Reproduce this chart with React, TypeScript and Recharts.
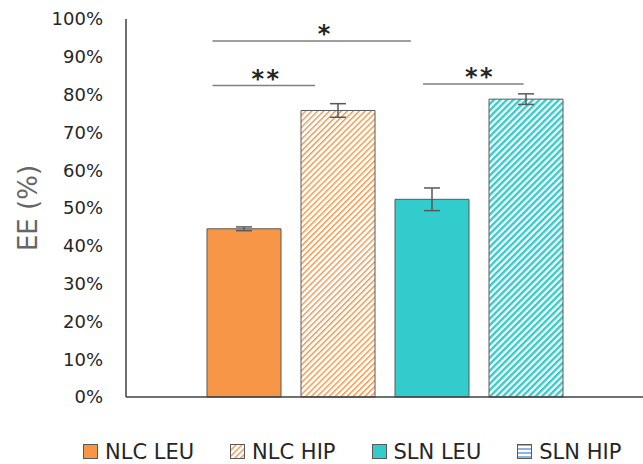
import React from 'react';
import {
  BarChart,
  Bar,
  XAxis,
  YAxis,
  ErrorBar,
  Legend,
  ReferenceLine,
} from 'recharts';

const seriesNames = ['NLC LEU', 'NLC HIP', 'SLN LEU', 'SLN HIP'];
const eeValues = [44.5, 75.8, 52.3, 78.8];
const eeErrors = [0.5, 1.8, 3.0, 1.4];
const yTicks = [0, 10, 20, 30, 40, 50, 60, 70, 80, 90, 100];

// significance brackets, x in bar-index units (0 = first bar centre)
const annDomain = [-1.25, 4.25];
const brackets = [
  { from: -0.33, to: 1.78, y: 94.2, text: '*', dx: 11 },
  { from: -0.33, to: 0.76, y: 82.4, text: '* *', dx: 0 },
  { from: 1.91, to: 2.98, y: 82.8, text: '* *', dx: 4 },
];

const fills = ['#F79646', 'url(#nlcHip)', '#33CCCC', 'url(#slnHip)'];
const legendFills = ['#F79646', 'url(#nlcHip)', '#33CCCC', 'url(#legendHip)'];

const row: Record<string, any> = { name: 'EE' };
seriesNames.forEach((s, i) => {
  row[`s${i}`] = eeValues[i];
  row[`e${i}`] = eeErrors[i];
});
const data = [row];

const FONT = '"DejaVu Sans", sans-serif';

const bracketShape = (b: (typeof brackets)[number]) => (props: any) => {
  const { x1, x2, y1 } = props;
  const px = (v: number) => x1 + ((v - annDomain[0]) / (annDomain[1] - annDomain[0])) * (x2 - x1);
  const a = px(b.from);
  const c = px(b.to);
  return (
    <g>
      <line x1={a} y1={y1} x2={c} y2={y1} stroke="#7F7F7F" strokeWidth={1.5} />
      <text
        x={(a + c) / 2 + b.dx}
        y={y1 + 1}
        textAnchor="middle"
        fontSize={24}
        fontWeight="bold"
        letterSpacing={-3}
        fill="#262626"
        fontFamily={FONT}
      >
        {b.text}
      </text>
    </g>
  );
};

const CustomLegend = () => (
  <div
    style={{
      display: 'flex',
      justifyContent: 'flex-start',
      gap: 36,
      fontFamily: FONT,
      fontSize: 21,
      lineHeight: '26px',
      color: '#262626',
      paddingLeft: 83,
    }}
  >
    {seriesNames.map((s, i) => (
      <div key={s} style={{ display: 'flex', alignItems: 'center', gap: 6 }}>
        <svg width={16} height={16}>
          <rect x={0.5} y={0.5} width={14} height={14} fill={legendFills[i]} stroke="#595959" strokeWidth={1} />
        </svg>
        <span>{s}</span>
      </div>
    ))}
  </div>
);

const YLabel = (props: any) => {
  const { viewBox } = props;
  const x = viewBox.x + 28;
  const y = viewBox.y + viewBox.height / 2;
  return (
    <text
      x={x}
      y={y}
      transform={`rotate(-90, ${x}, ${y})`}
      textAnchor="middle"
      dominantBaseline="central"
      fontSize={26}
      fill="#666666"
      fontFamily={FONT}
    >
      EE (%)
    </text>
  );
};

export default function App() {
  return (
    <div style={{ position: 'absolute', left: 0, top: 0 }}>
      <BarChart
        width={643}
        height={464}
        data={data}
        margin={{ top: 19, right: 0, left: 0, bottom: 66 }}
        barSize={74}
        barGap={20}
        style={{ fontFamily: FONT }}
      >
        <defs>
          <pattern id="nlcHip" width={4.2} height={4.2} patternUnits="userSpaceOnUse" patternTransform="rotate(45)">
            <rect width={4.2} height={4.2} fill="#ffffff" />
            <rect width={1.4} height={4.2} fill="#F79646" />
          </pattern>
          <pattern id="slnHip" width={4.6} height={4.6} patternUnits="userSpaceOnUse" patternTransform="rotate(45)">
            <rect width={4.6} height={4.6} fill="#ffffff" />
            <rect width={2.4} height={4.6} fill="#33CCCC" />
          </pattern>
          <pattern id="legendHip" width={4} height={4} patternUnits="userSpaceOnUse">
            <rect width={4} height={4} fill="#ffffff" />
            <rect width={4} height={2} fill="#8EB4E3" />
          </pattern>
        </defs>
        <XAxis dataKey="name" tick={false} tickLine={false} height={1} stroke="#404040" strokeWidth={1.5} />
        <YAxis
          width={126}
          domain={[0, 100]}
          ticks={yTicks}
          tickFormatter={(v) => `${v}%`}
          tickLine={false}
          tickSize={0}
          tickMargin={23}
          tick={{ fill: '#262626', fontSize: 18 }}
          stroke="#404040"
          strokeWidth={1.5}
          label={<YLabel />}
        />
        {seriesNames.map((s, i) => (
          <Bar
            key={s}
            dataKey={`s${i}`}
            name={s}
            fill={fills[i]}
            stroke="#595959"
            strokeWidth={1}
            isAnimationActive={false}
          >
            <ErrorBar dataKey={`e${i}`} width={8} stroke="#595959" strokeWidth={1.5} />
          </Bar>
        ))}
        {brackets.map((b, i) => (
          <ReferenceLine key={i} y={b.y} shape={bracketShape(b)} ifOverflow="visible" />
        ))}
        <Legend
          verticalAlign="middle"
          content={<CustomLegend />}
          wrapperStyle={{ top: 439, left: 0, width: 643, height: 26 }}
        />
      </BarChart>
    </div>
  );
}
